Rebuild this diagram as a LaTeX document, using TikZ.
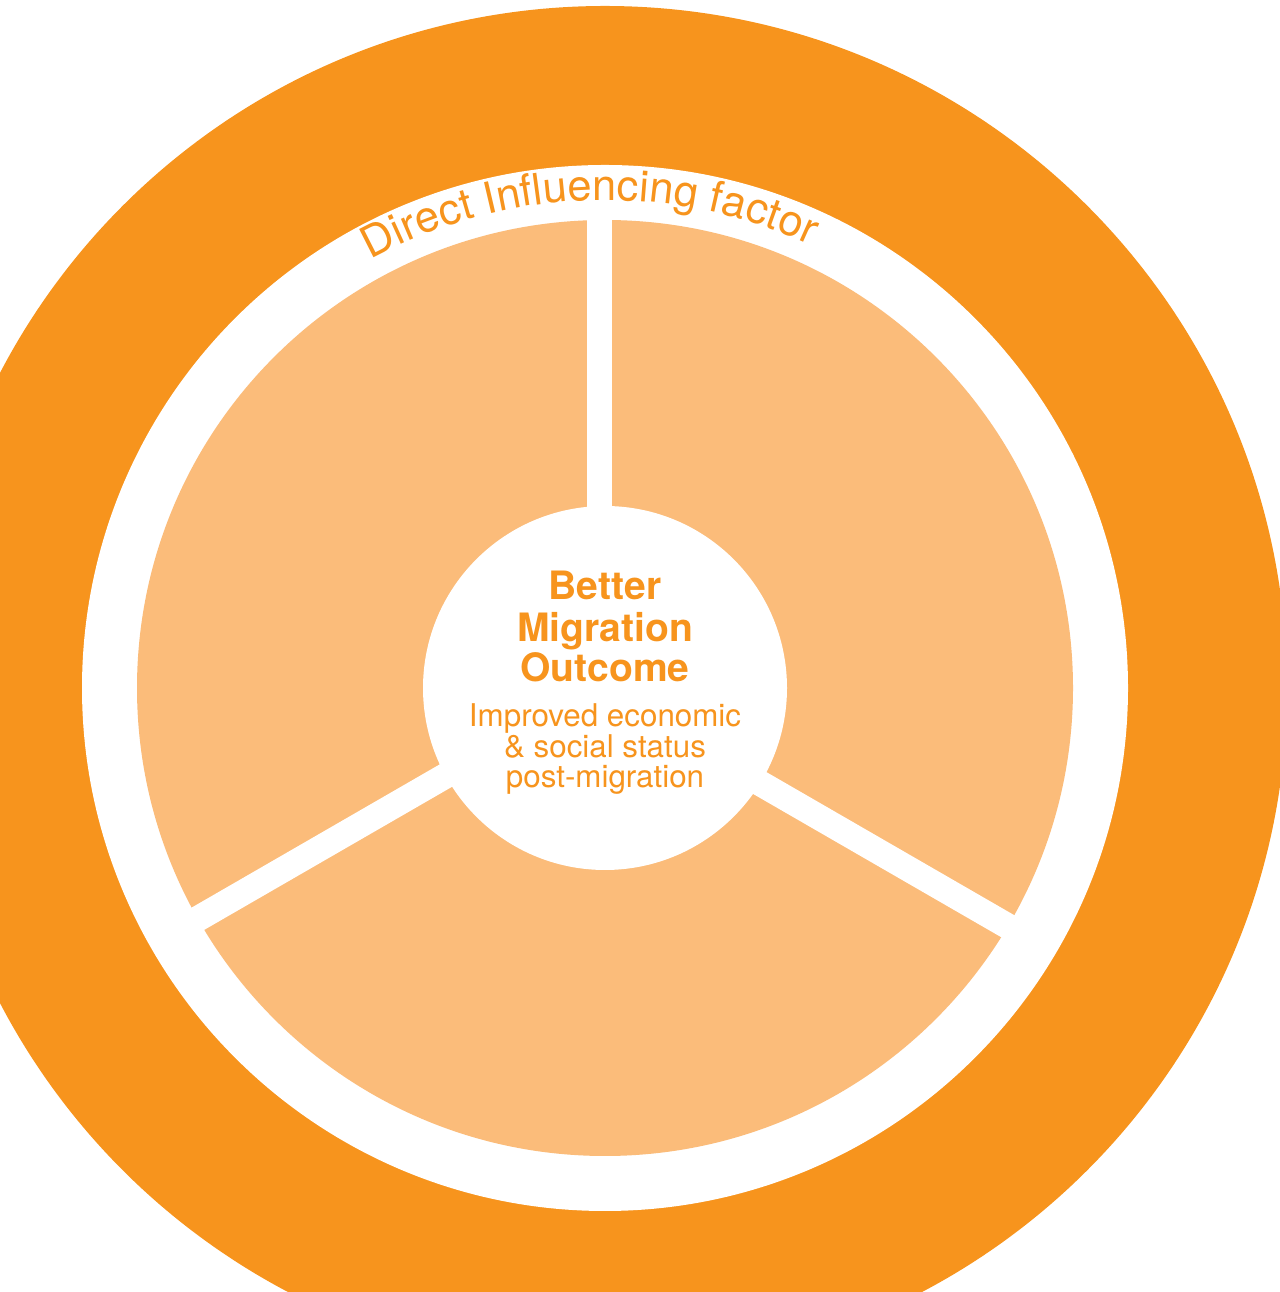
\documentclass[tikz,border=0pt]{standalone}
\usepackage{fontspec}
\setmainfont{TeX Gyre Heros}
\usetikzlibrary{calc,decorations.text}
\definecolor{ringorange}{HTML}{F7941D}
\definecolor{sectorfill}{HTML}{FBBC7A}
\begin{document}
\begin{tikzpicture}[x=0.75pt,y=0.75pt,
  gapline/.style={white, line width=19.2pt},
  headline/.style={text=ringorange, inner sep=0pt, anchor=base,
    font=\bfseries\fontsize{29.3}{30}\selectfont},
  subline/.style={text=ringorange, inner sep=0pt, anchor=base,
    font=\fontsize{23.5}{24}\selectfont}]
\useasboundingbox (0,0) rectangle (1280,1292);
\clip (0,0) rectangle (1280,1292);
\coordinate (C) at (605,604);
% outer ring, white band, light sectors
\fill[ringorange] (C) circle[radius=682];
\fill[white] (C) circle[radius=523];
\fill[sectorfill] (C) circle[radius=468];
% white separators between the three sectors
\coordinate (G0) at (599.5,604);
\coordinate (GL) at (599.5,605.1);
\coordinate (GR) at (599.5,601.5);
\draw[gapline] (G0) -- ++(90:480);
\draw[gapline] (GL) -- ++(210:480);
\draw[gapline] (GR) -- ++(330:480);
% central hub
\fill[white] (C) circle[radius=182];
\node[headline] (l1) at (605,692) {Better};
\node[headline] (l2) at (605,650) {Migration};
\node[headline] (l3) at (605,610) {Outcome};
\node[subline] (s1) at (605,565) {Improved economic};
\node[subline] (s2) at (605,534) {\& social status};
\node[subline] (s3) at (605,504) {post-migration};
% curved label in the white band
\path[decorate, decoration={text along path, text align=center,
    text color=ringorange,
    text={|\fontsize{32.6}{33}\selectfont|Direct Influencing factor}}]
  ($(C)+(131.9:488)$) arc[start angle=131.9, end angle=51.9, radius=488];
\end{tikzpicture}
\end{document}
